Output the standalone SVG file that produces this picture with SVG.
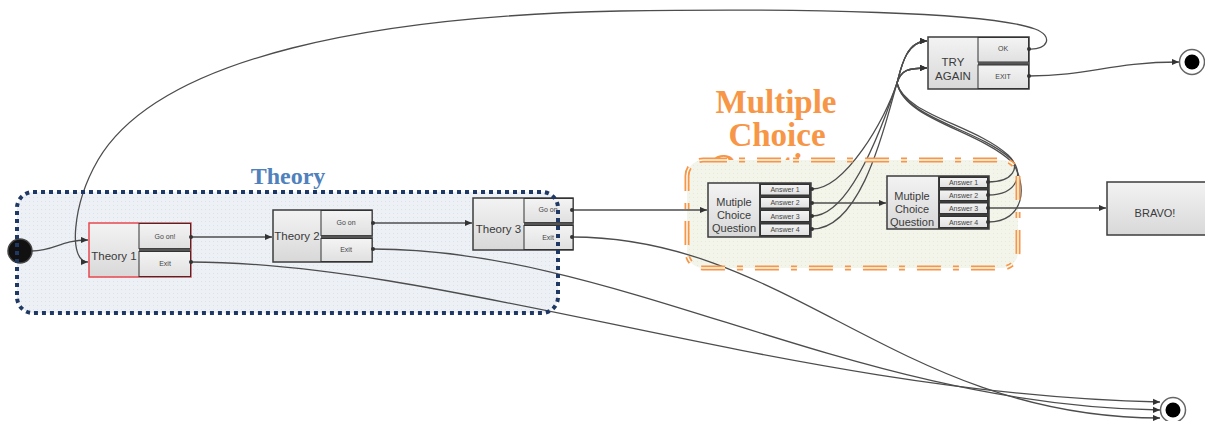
<svg xmlns="http://www.w3.org/2000/svg" width="1205" height="421" viewBox="0 0 1205 421">
  <defs>
    <linearGradient id="nodeFill" x1="0" y1="0" x2="0" y2="1">
      <stop offset="0" stop-color="#f3f3f3"/>
      <stop offset="1" stop-color="#d8d8d8"/>
    </linearGradient>
    <linearGradient id="portFill" x1="0" y1="0" x2="0" y2="1">
      <stop offset="0" stop-color="#f4f4f4"/>
      <stop offset="1" stop-color="#e0e0e0"/>
    </linearGradient>
    <pattern id="blueDots" width="4" height="4" patternUnits="userSpaceOnUse">
      <rect width="4" height="4" fill="#edf1f6"/>
      <rect x="1" y="1" width="1" height="1" fill="#dbe2ec"/>
    </pattern>
    <pattern id="greenDots" width="4" height="4" patternUnits="userSpaceOnUse">
      <rect width="4" height="4" fill="#f3f5ea"/>
      <rect x="1" y="1" width="1" height="1" fill="#e6eadb"/>
    </pattern>
    <clipPath id="aboveArea">
      <rect x="600" y="0" width="400" height="166"/>
    </clipPath>
    <marker id="arrow" viewBox="0 0 8 8" refX="8" refY="4" markerWidth="7" markerHeight="7" markerUnits="userSpaceOnUse" orient="auto">
      <path d="M0,0.5 L8,4 L0,7.5 z" fill="#333"/>
    </marker>
  </defs>
  <style>
    .wire{fill:none;stroke:#4d4d4d;stroke-width:1.3}
    .body{fill:url(#nodeFill);stroke:#3c3c3c;stroke-width:1.5}
    .port{fill:url(#portFill);stroke:#333;stroke-width:1}
    .col{fill:#3d3d3d}
    .bar{fill:#555}
    .lbl{font-family:"Liberation Sans",Arial,sans-serif;font-size:11.5px;fill:#3a3a3a;text-anchor:middle}
    .mlbl{font-family:"Liberation Sans",Arial,sans-serif;font-size:11px;fill:#3a3a3a;text-anchor:middle}
    .ptx{font-family:"Liberation Sans",Arial,sans-serif;font-size:7px;fill:#444;text-anchor:middle}
    .dot{fill:#333}
    .title{font-family:"Liberation Serif","Times New Roman",serif;font-weight:bold;text-anchor:middle}
  </style>

  <rect width="1205" height="421" fill="#ffffff"/>

  <!-- group titles -->
  <text class="title" x="288" y="184" font-size="24" fill="#4f81bd">Theory</text>
  <g class="title" font-size="33" fill="#f79646">
    <text x="776" y="113">Multiple</text>
    <text x="777" y="146">Choice</text>
    <text x="774" y="177" clip-path="url(#aboveArea)">Question</text>
  </g>

  <!-- group backgrounds -->
  <rect id="theory-area" x="17" y="192" width="541" height="121" rx="16" fill="url(#blueDots)"/>
  <rect id="mcq-area" x="687" y="160" width="331" height="108" rx="16" fill="url(#greenDots)"/>

  <!-- connectors -->
  <g id="connectors">
    <path class="wire" d="M32,251 C55,251 60,240 88,240" marker-end="url(#arrow)"/>
    <path class="wire" d="M191,237 L272,237" marker-end="url(#arrow)"/>
    <path class="wire" d="M373,223 L472,223" marker-end="url(#arrow)"/>
    <path class="wire" d="M572,210 L707,210" marker-end="url(#arrow)"/>
    <path class="wire" d="M812,203 L886,203" marker-end="url(#arrow)"/>
    <path class="wire" d="M988,208 L1106,208" marker-end="url(#arrow)"/>

    <!-- wrong answers to TRY AGAIN -->
    <path class="wire" d="M812,189 C845,189 885,120 897,83 C901,68 906,41 927,41" marker-end="url(#arrow)"/>
    <path class="wire" d="M812,216 C850,216 883,125 897,83 C901,70 908,68 927,68" marker-end="url(#arrow)"/>
    <path class="wire" d="M812,229 C862,229 885,125 897,83 C901,68 906,41 927,41" marker-end="url(#arrow)"/>
    <path class="wire" d="M988,182 C1012,182 1022,168 1008,155 C975,125 905,115 897,83 C901,70 908,68 927,68" marker-end="url(#arrow)"/>
    <path class="wire" d="M988,195 C1018,195 1025,172 1010,158 C975,128 905,118 897,83 C901,68 906,41 927,41" marker-end="url(#arrow)"/>
    <path class="wire" d="M988,222 C1025,222 1028,185 1012,162 C978,130 905,120 897,83 C901,70 908,68 927,68" marker-end="url(#arrow)"/>

    <!-- TRY AGAIN outputs -->
    <path class="wire" d="M1029,49 C1048,50 1054,36 1035,29 C990,12 800,8 620,11 C380,16 160,55 98,160 C72,205 68,262 88,262" marker-end="url(#arrow)"/>
    <path class="wire" d="M1029,76 C1090,76 1110,62 1179,62" marker-end="url(#arrow)"/>

    <!-- theory exits -->
    <path class="wire" d="M191,262 C450,262 800,395 1160,402" marker-end="url(#arrow)"/>
    <path class="wire" d="M373,249 C620,249 850,405 1160,410" marker-end="url(#arrow)"/>
    <path class="wire" d="M572,237 C790,237 900,418 1160,418" marker-end="url(#arrow)"/>
  </g>

  <!-- start / end points -->
  <g id="start">
    <circle cx="20" cy="251" r="12" fill="#111" stroke="#444" stroke-width="1.5"/>
  </g>
  <g id="end-top">
    <circle cx="1192" cy="62" r="12.5" fill="#fff" stroke="#666" stroke-width="1.5"/>
    <circle cx="1192" cy="62" r="7.5" fill="#000"/>
  </g>
  <g id="end-bottom">
    <circle cx="1173" cy="410" r="12.5" fill="#fff" stroke="#666" stroke-width="1.5"/>
    <circle cx="1173" cy="410" r="7.5" fill="#000"/>
  </g>

  <!-- theory nodes -->
  <g id="theory1">
    <rect class="body" x="89" y="223" width="102" height="54" style="stroke:#e8474f"/>
    <rect class="port" x="139" y="223.5" width="51.5" height="25"/>
    <rect class="bar" x="139" y="248.5" width="52" height="3"/>
    <rect class="port" x="139" y="251.5" width="51.5" height="25"/>
    <text class="lbl" x="114" y="260">Theory 1</text>
    <text class="ptx" x="165" y="239">Go on!</text>
    <text class="ptx" x="165" y="266">Exit</text>
  </g>
  <g id="theory2">
    <rect class="body" x="273" y="210" width="99" height="52"/>
    <rect class="port" x="321" y="210.5" width="51" height="25"/>
    <rect class="bar" x="321" y="235.5" width="51" height="3"/>
    <rect class="port" x="321" y="238.5" width="51" height="23"/>
    <text class="lbl" x="297" y="240">Theory 2</text>
    <text class="ptx" x="346" y="225">Go on</text>
    <text class="ptx" x="346" y="252">Exit</text>
  </g>
  <g id="theory3">
    <rect class="body" x="473" y="198" width="100" height="52"/>
    <rect class="port" x="524" y="198.5" width="49" height="24"/>
    <rect class="bar" x="524" y="222.5" width="49" height="3"/>
    <rect class="port" x="524" y="225.5" width="49" height="24"/>
    <text class="lbl" x="498.5" y="233">Theory 3</text>
    <text class="ptx" x="548" y="212">Go on</text>
    <text class="ptx" x="548" y="240">Exit</text>
  </g>

  <!-- multiple choice nodes -->
  <g id="mcq1">
    <rect class="body" x="708" y="183" width="103" height="54"/>
    <rect class="col" x="759" y="183" width="52" height="54"/>
    <rect class="port" x="760.5" y="184.5" width="49" height="10.5"/>
    <rect class="port" x="760.5" y="197.5" width="49" height="10.5"/>
    <rect class="port" x="760.5" y="210.5" width="49" height="11"/>
    <rect class="port" x="760.5" y="224" width="49" height="11.5"/>
    <text class="mlbl" x="734" y="206">Mutiple</text>
    <text class="mlbl" x="734" y="219">Choice</text>
    <text class="mlbl" x="734" y="232">Question</text>
    <text class="ptx" x="785" y="192">Answer 1</text>
    <text class="ptx" x="785" y="205">Answer 2</text>
    <text class="ptx" x="785" y="218.5">Answer 3</text>
    <text class="ptx" x="785" y="232">Answer 4</text>
  </g>
  <g id="mcq2">
    <rect class="body" x="887" y="176" width="102" height="53"/>
    <rect class="col" x="938" y="176" width="51" height="53"/>
    <rect class="port" x="939.5" y="177.5" width="48" height="10"/>
    <rect class="port" x="939.5" y="190" width="48" height="10.5"/>
    <rect class="port" x="939.5" y="203" width="48" height="10.5"/>
    <rect class="port" x="939.5" y="216.5" width="48" height="11"/>
    <text class="mlbl" x="912" y="200">Mutiple</text>
    <text class="mlbl" x="912" y="213">Choice</text>
    <text class="mlbl" x="912" y="226">Question</text>
    <text class="ptx" x="963.5" y="185">Answer 1</text>
    <text class="ptx" x="963.5" y="198">Answer 2</text>
    <text class="ptx" x="963.5" y="211">Answer 3</text>
    <text class="ptx" x="963.5" y="224.5">Answer 4</text>
  </g>

  <!-- retry node -->
  <g id="try-again">
    <rect class="body" x="928" y="37" width="101" height="52"/>
    <rect class="port" x="978" y="37.5" width="50.5" height="24.5"/>
    <rect class="bar" x="978" y="62" width="51" height="3"/>
    <rect class="port" x="978" y="65" width="50.5" height="23.5"/>
    <text class="lbl" x="953" y="66" font-size="12.5">TRY</text>
    <text class="lbl" x="953" y="80" font-size="12.5">AGAIN</text>
    <text class="ptx" x="1003" y="51">OK</text>
    <text class="ptx" x="1003" y="79">EXIT</text>
  </g>

  <!-- success node -->
  <g id="bravo">
    <rect class="body" x="1107" y="182" width="110" height="53"/>
    <text class="mlbl" x="1155" y="217">BRAVO!</text>
  </g>

  <!-- port dots -->
  <g id="port-dots">
    <circle class="dot" cx="191" cy="237" r="2"/>
    <circle class="dot" cx="191" cy="262" r="2"/>
    <circle class="dot" cx="373" cy="223" r="2"/>
    <circle class="dot" cx="373" cy="249" r="2"/>
    <circle class="dot" cx="572" cy="210" r="2"/>
    <circle class="dot" cx="572" cy="237" r="2"/>
    <circle class="dot" cx="812" cy="189" r="2"/>
    <circle class="dot" cx="812" cy="203" r="2"/>
    <circle class="dot" cx="812" cy="216" r="2"/>
    <circle class="dot" cx="812" cy="229" r="2"/>
    <circle class="dot" cx="988" cy="182" r="2"/>
    <circle class="dot" cx="988" cy="195" r="2"/>
    <circle class="dot" cx="988" cy="208" r="2"/>
    <circle class="dot" cx="988" cy="222" r="2"/>
    <circle class="dot" cx="1029" cy="49" r="2"/>
    <circle class="dot" cx="1029" cy="76" r="2"/>
  </g>

  <!-- group borders -->
  <rect id="theory-border" x="17" y="192" width="541" height="121" rx="16" fill="none" stroke="#1f3864" stroke-width="4" stroke-dasharray="4 4"/>
  <g id="mcq-border" fill="none">
    <rect x="687" y="160" width="331" height="108" rx="16" stroke="#f79646" stroke-width="5" stroke-dasharray="24 12 6 12"/>
    <rect x="687" y="160" width="331" height="108" rx="16" stroke="#fbfbf6" stroke-width="1.5" stroke-dasharray="24 12 6 12"/>
  </g>
</svg>
